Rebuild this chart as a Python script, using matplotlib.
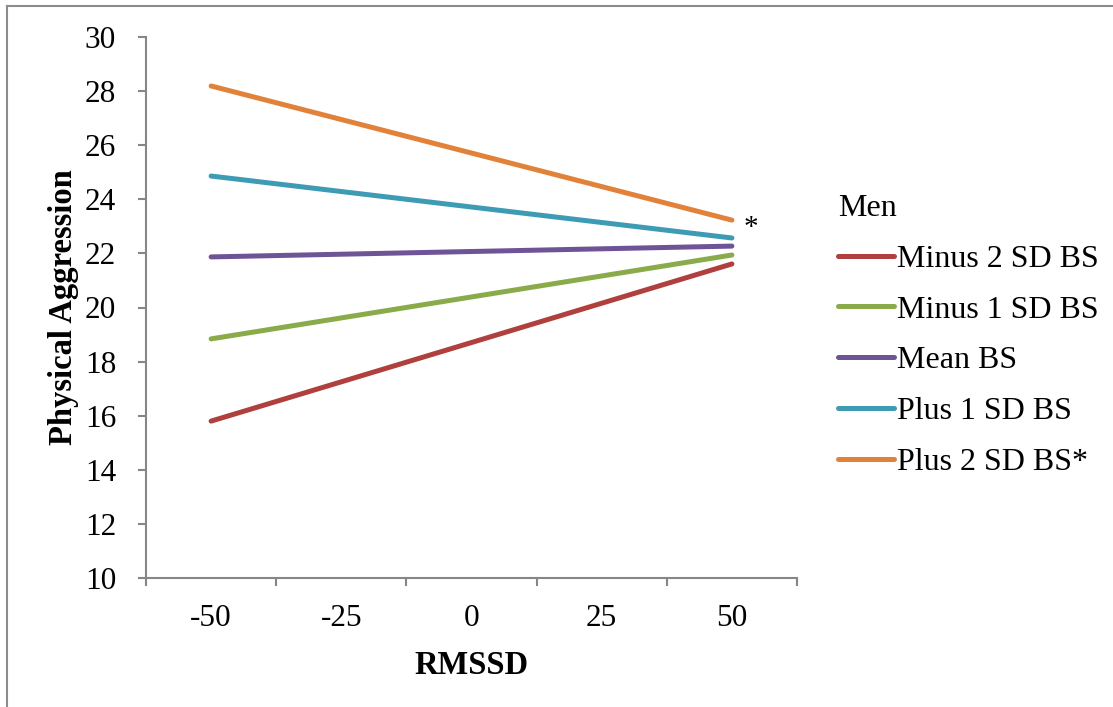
import matplotlib
matplotlib.use("Agg")
import matplotlib.pyplot as plt
from matplotlib.lines import Line2D

# ---- data ----
rmssd_labels = ["-50", "-25", "0", "25", "50"]
series_names = ["Minus 2 SD BS", "Minus 1 SD BS", "Mean BS", "Plus 1 SD BS", "Plus 2 SD BS*"]
# values at RMSSD = -50 and RMSSD = 50
minus2 = [15.80, 21.61]
minus1 = [18.84, 21.94]
mean_bs = [21.87, 22.27]
plus1 = [24.86, 22.57]
plus2 = [28.19, 23.23]
series_values = [minus2, minus1, mean_bs, plus1, plus2]
colors = ["#B0403D", "#8AAB4A", "#6E5496", "#3E9BB4", "#E2823A"]
y_ticks = [10, 12, 14, 16, 18, 20, 22, 24, 26, 28, 30]

plt.rcParams['font.family'] = ['Liberation Serif', 'DejaVu Serif']

fig = plt.figure(figsize=(11.13, 7.07), dpi=100)
ax = fig.add_axes([146/1113, 1-578/707, (797-146)/1113, (578-37)/707])

end_idx = [0, len(rmssd_labels) - 1]
for name, vals, c in zip(series_names, series_values, colors):
    ax.plot(end_idx, vals, color=c, lw=3.6, solid_capstyle='round', label=name)

ax.annotate("*", xy=(end_idx[1], plus2[1]), xytext=(14, -6), textcoords='offset points',
            fontsize=21, ha='center', va='center')

ax.set_xlim(-0.5, len(rmssd_labels) - 0.5)
ax.set_ylim(10, 30)
ax.set_yticks(y_ticks)
ax.set_yticklabels([str(v) for v in y_ticks])

ax.set_xticks([i - 0.5 for i in range(len(rmssd_labels) + 1)])
ax.set_xticklabels([])
ax.set_xticks(range(len(rmssd_labels)), minor=True)
ax.set_xticklabels(rmssd_labels, minor=True)

spine_c = "#868686"
for s in ['top', 'right']:
    ax.spines[s].set_visible(False)
for s in ['left', 'bottom']:
    ax.spines[s].set_color(spine_c)
    ax.spines[s].set_linewidth(1.5)

ax.tick_params(axis='y', which='major', direction='out', length=6, width=1.5, color=spine_c,
               labelsize=22.5, pad=15.5)
ax.tick_params(axis='x', which='major', direction='out', length=6, width=1.5, color=spine_c)
ax.tick_params(axis='x', which='minor', length=0, labelsize=22.5, pad=19)

ax.set_xlabel("RMSSD", fontsize=23.5, fontweight='bold', labelpad=12)
ax.set_ylabel("Physical Aggression", fontsize=23.5, fontweight='bold', labelpad=4)

leg = ax.legend(loc='upper left', bbox_to_anchor=(822/1113, 1-178/707), bbox_transform=fig.transFigure,
                title="Men", fontsize=23, title_fontsize=23, frameon=False,
                handlelength=1.75, handletextpad=0.1, labelspacing=0.67, borderpad=0)
leg._legend_box.align = "left"

# outer frame (top and left visible)
fig.add_artist(Line2D([7/1113, 7/1113], [0, 1-6/707], transform=fig.transFigure, color="#8c8c8c", lw=1.5))
fig.add_artist(Line2D([7/1113, 1], [1-6/707, 1-6/707], transform=fig.transFigure, color="#8c8c8c", lw=1.5))

fig.savefig("out.png", dpi=100)
